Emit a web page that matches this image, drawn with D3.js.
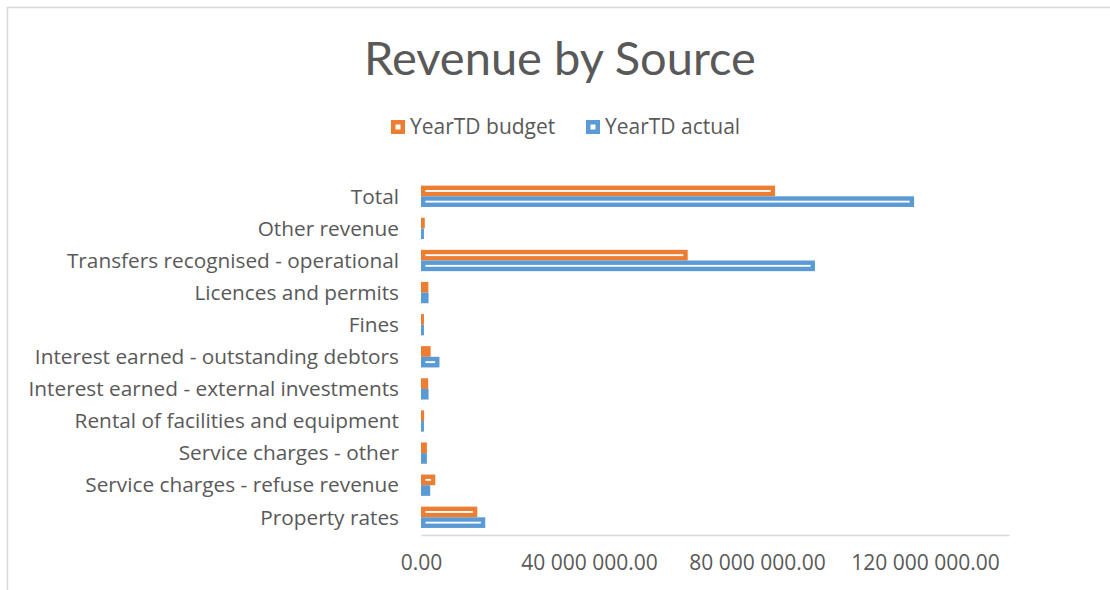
<!DOCTYPE html>
<html>
<head>
<meta charset="utf-8">
<script src="https://cdn.jsdelivr.net/npm/d3@7"></script>
<style>
  body { margin: 0; background: #fff; }
  text { font-family: "Open Sans", sans-serif; fill: #595959; }
</style>
</head>
<body>
<svg id="chart" width="1110" height="590"></svg>
<script>
// Data (values in rand)
const categories = [
    "Property rates",
    "Service charges - refuse revenue",
    "Service charges - other",
    "Rental of facilities and equipment",
    "Interest earned - external investments",
    "Interest earned - outstanding debtors",
    "Fines",
    "Licences and permits",
    "Transfers recognised - operational",
    "Other revenue",
    "Total"
];
const budget = [13.4e6, 3.4e6, 1.4e6, 0.75e6, 1.7e6, 2.3e6, 0.7e6, 1.75e6, 63.5e6, 0.9e6, 84.3e6];
const actual = [15.3e6, 2.2e6, 1.4e6, 0.7e6, 1.8e6, 4.4e6, 0.7e6, 1.8e6, 93.8e6, 0.7e6, 117.4e6];
const seriesNames = ["YearTD budget", "YearTD actual"];
const seriesColors = ["#ED7D31", "#5B9BD5"];
const xTicks = [0, 40e6, 80e6, 120e6];

const svg = d3.select("#chart");

// chart border
svg.append("rect")
    .attr("x", 7.5).attr("y", 7.5)
    .attr("width", 1200).attr("height", 700)
    .attr("fill", "none")
    .attr("stroke", "#d9d9d9")
    .attr("stroke-width", 1.5);

// Title
svg.append("text")
    .attr("x", 560).attr("y", 75)
    .attr("text-anchor", "middle")
    .style("font-family", "Lato, sans-serif")
    .style("font-size", "47px")
    .text("Revenue by Source");

// Scales
const x = d3.scaleLinear().domain([0, 140e6]).range([421, 1009]);
const y = d3.scaleBand()
    .domain(categories.slice().reverse())
    .range([180.25, 533.35])
    .paddingInner(0.336)
    .paddingOuter(0.168);
const ySeries = d3.scaleBand().domain([0, 1]).range([0, y.bandwidth()]);

// X axis
const fmt = v => d3.format(",.2f")(v).replace(/,/g, " ");
const xAxis = svg.append("g")
    .attr("transform", "translate(0,535)")
    .call(d3.axisBottom(x).tickValues(xTicks).tickFormat(fmt).tickSize(0).tickSizeOuter(0).tickPadding(20));
xAxis.select(".domain").attr("stroke", "#d9d9d9").attr("stroke-width", 1.5);
xAxis.selectAll("text")
    .style("font-size", "21px")
    .style("font-family", "'Open Sans', sans-serif")
    .attr("fill", "#595959");

// Y labels
svg.append("g")
    .selectAll("text")
    .data(categories)
    .join("text")
        .attr("x", 399)
        .attr("y", d => y(d) + y.bandwidth() / 2)
        .attr("dy", "0.35em")
        .attr("text-anchor", "end")
        .style("font-size", "20.8px")
        .text(d => d);

// Bars
const rows = categories.map((c, i) => ({ cat: c, vals: [budget[i], actual[i]] }));
const groups = svg.append("g")
    .selectAll("g")
    .data(rows)
    .join("g")
        .attr("transform", d => `translate(0,${y(d.cat)})`);

const bars = groups.selectAll("g")
    .data(d => d.vals.map((v, s) => ({ v, s })))
    .join("g");

bars.append("rect")
    .attr("x", x(0))
    .attr("y", d => ySeries(d.s))
    .attr("width", d => x(d.v) - x(0))
    .attr("height", ySeries.bandwidth())
    .attr("fill", d => seriesColors[d.s]);

// white inner line (outlined bar look)
const inset = 4.4;
bars.filter(d => x(d.v) - x(0) > 2 * inset + 1)
    .append("rect")
    .attr("x", x(0) + inset)
    .attr("y", d => ySeries(d.s) + inset)
    .attr("width", d => x(d.v) - x(0) - 2 * inset)
    .attr("height", ySeries.bandwidth() - 2 * inset)
    .attr("fill", "#fff");

// Legend
const legendX = [391, 586];
const legend = svg.append("g")
    .selectAll("g")
    .data(seriesNames)
    .join("g")
        .attr("transform", (d, i) => `translate(${legendX[i]},120)`);
legend.append("rect")
    .attr("width", 14).attr("height", 14)
    .attr("fill", (d, i) => seriesColors[i]);
legend.append("rect")
    .attr("x", 4.5).attr("y", 4.5)
    .attr("width", 5).attr("height", 5)
    .attr("fill", "#fff");
legend.append("text")
    .attr("x", 19).attr("y", 7)
    .attr("dy", "0.35em")
    .style("font-size", "21px")
    .text(d => d);
</script>
</body>
</html>
